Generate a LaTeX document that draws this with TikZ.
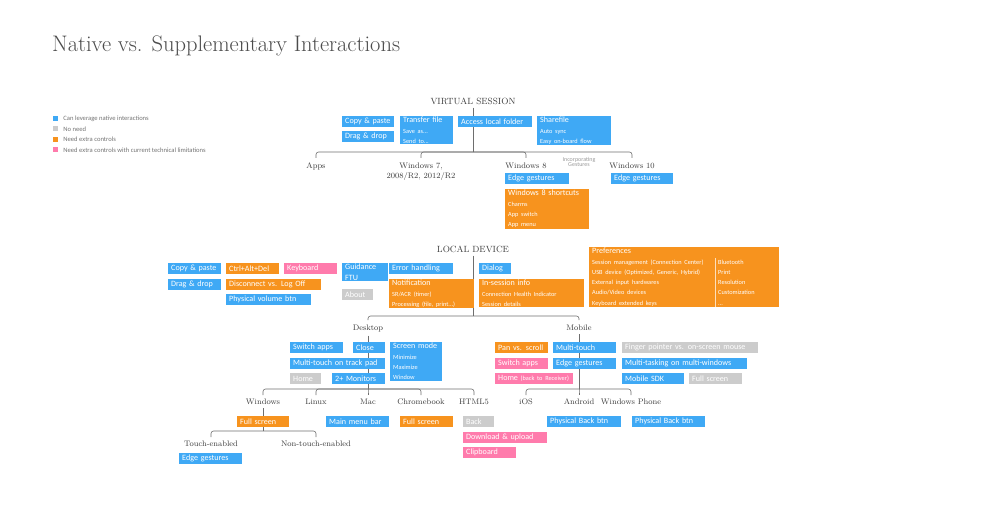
\documentclass[tikz,border=0pt]{standalone}
\usepackage{fontspec}
\usetikzlibrary{positioning}
\newfontfamily\boxfont{Carlito}
\newcommand\subtxt{\fontsize{6.3}{10.3}\selectfont}

\definecolor{cblue}{RGB}{63,169,245}
\definecolor{corange}{RGB}{247,147,30}
\definecolor{cpink}{RGB}{255,123,172}
\definecolor{cgray}{RGB}{204,204,204}
\definecolor{linegray}{RGB}{110,110,110}
\definecolor{labelgray}{RGB}{60,60,60}

\tikzset{
	tag/.style={anchor=north west, fill=#1, text=white, inner xsep=3pt, inner ysep=1pt,
		minimum height=10.5pt, align=left, font=\boxfont\fontsize{8.1}{10.3}\selectfont},
	wd/.style={text width=#1pt-6pt},
	lbl/.style={anchor=north, inner sep=0pt, text=labelgray, align=center,
		font=\fontsize{8}{9.5}\selectfont},
	head/.style={inner sep=0pt, text=labelgray, font=\fontsize{9}{10}\selectfont},
	branch/.style={draw=linegray, line width=0.6pt, rounded corners=2.5pt},
	legsq/.style={fill=#1, minimum size=5pt, inner sep=0pt},
	legtxt/.style={inner sep=0pt, text=black!55, font=\boxfont\fontsize{6.6}{7}\selectfont}
}

\begin{document}
\begin{tikzpicture}[x=1pt,y=-1pt]
	\useasboundingbox (0,0) rectangle (1000,526);

	\node[anchor=base west, inner sep=0pt, text=black!70, font=\fontsize{22.5}{26}\selectfont]
		(title) at (52,52) {Native vs. Supplementary Interactions};

	% legend
	\foreach \c/\t/\y [count=\i] in {cblue/Can leverage native interactions/118.5,
		cgray/No need/129, corange/Need extra controls/139.5,
		cpink/Need extra controls with current technical limitations/150}{
		\node[legsq=\c] (leg\i) at (55.5,\y) {};
		\node[legtxt, right=5pt of leg\i] (legt\i) {\t};
	}

	% virtual session
	\node[head] (virtual) at (473,101) {VIRTUAL SESSION};
	\node[lbl] (apps) at (316,163) {Apps};
	\node[lbl] (win7) at (421,163) {Windows 7,\\2008/R2, 2012/R2};
	\node[lbl] (win8) at (526,163) {Windows 8};
	\node[lbl] (win10) at (632,163) {Windows 10};
	\node[inner sep=0pt, text=black!40, align=center, font=\boxfont\fontsize{6}{5.8}\selectfont]
		(gestures) at (579,162) {Incorporating\\Gestures};
	\coordinate (vbar) at (473,152);
	\draw[branch, shorten <=3pt] (virtual) -- (vbar);
	\foreach \n in {apps,win7,win8,win10}
		\draw[branch, shorten >=5pt] (vbar) -| (\n);

	% local device
	\node[head] (local) at (473,249) {LOCAL DEVICE};
	\node[lbl] (desktop) at (368,325) {Desktop};
	\node[lbl] (mobile) at (579,325) {Mobile};
	\coordinate (lbar) at (473,316);
	\draw[branch, shorten <=3pt] (local) -- (lbar);
	\foreach \n in {desktop,mobile}
		\draw[branch, shorten >=5pt] (lbar) -| (\n);

	\node[lbl] (windows) at (263,399) {Windows};
	\node[lbl] (linux) at (316,399) {Linux};
	\node[lbl] (mac) at (368,399) {Mac};
	\node[lbl] (chromebook) at (421,399) {Chromebook};
	\node[lbl] (html) at (474,399) {HTML5};
	\coordinate (dbar) at (368,389);
	\draw[branch, shorten <=3pt] (desktop) -- (dbar);
	\foreach \n in {windows,linux,mac,chromebook,html}
		\draw[branch, shorten >=4pt] (dbar) -| (\n);

	\node[lbl] (ios) at (526,399) {iOS};
	\node[lbl] (android) at (579,399) {Android};
	\node[lbl] (wphone) at (631,399) {Windows Phone};
	\coordinate (mbar) at (579,389);
	\draw[branch, shorten <=3pt] (mobile) -- (mbar);
	\foreach \n in {ios,android,wphone}
		\draw[branch, shorten >=4pt] (mbar) -| (\n);

	\node[lbl] (touch) at (211,441) {Touch-enabled};
	\node[lbl] (nontouch) at (316,441) {Non-touch-enabled};
	\coordinate (wbar) at (263,431);
	\draw[branch, shorten <=3pt] (windows) -- (wbar);
	\foreach \n in {touch,nontouch}
		\draw[branch, shorten >=4pt] (wbar) -| (\n);

	% boxes, virtual session
	\node[tag=cblue, wd=52] (vcopy) at (342,116) {Copy \& paste};
	\node[tag=cblue, wd=52] (vdrag) at (342,131) {Drag \& drop};
	\node[tag=cblue, wd=53] (vtransfer) at (400,116) {Transfer file\\{\subtxt Save as...}\\{\subtxt Send to...}};
	\node[tag=cblue, wd=74] (vaccess) at (458,116) {Access local folder};
	\node[tag=cblue, wd=74] (vshare) at (537,116) {Sharefile\\{\subtxt Auto sync}\\{\subtxt Easy on-board flow}};
	\node[tag=cblue, wd=64] (w8edge) at (505,173) {Edge gestures};
	\node[tag=cblue, wd=62] (w10edge) at (611,173) {Edge gestures};
	\node[tag=corange, wd=84] (w8short) at (505,189) {Windows 8 shortcuts\\{\subtxt Charms}\\{\subtxt App switch}\\{\subtxt App menu}};

	% boxes, local device
	\node[tag=cblue, wd=53] (lcopy) at (168,263) {Copy \& paste};
	\node[tag=cblue, wd=53] (ldrag) at (168,279) {Drag \& drop};
	\node[tag=corange, wd=53] (lctrl) at (226,263) {Ctrl+Alt+Del};
	\node[tag=cpink, wd=53] (lkey) at (284,263) {Keyboard};
	\node[tag=corange, wd=95] (ldisc) at (226,279) {Disconnect vs. Log Off};
	\node[tag=cblue, wd=85] (lvol) at (226,294) {Physical volume btn};
	\node[tag=cblue, wd=46] (lguide) at (342,263) {Guidance\\FTU};
	\node[tag=cgray, wd=31] (labout) at (342,289) {About};
	\node[tag=cblue, wd=64] (lerror) at (389,263) {Error handling};
	\node[tag=corange, wd=85] (lnotif) at (389,279) {Notification\\{\subtxt SR/ACR (timer)}\\{\subtxt Processing (file, print...)}};
	\node[tag=cblue, wd=32] (ldialog) at (479,263) {Dialog};
	\node[tag=corange, wd=105] (linfo) at (479,279) {In-session info\\{\subtxt Connection Health Indicator}\\{\subtxt Session details}};
	\node[tag=corange, wd=190] (lpref) at (589,247) {Preferences\\
		{\subtxt\makebox[126pt][l]{Session management (Connection Center)}Bluetooth}\\
		{\subtxt\makebox[126pt][l]{USB device (Optimized, Generic, Hybrid)}Print}\\
		{\subtxt\makebox[126pt][l]{External input hardwares}Resolution}\\
		{\subtxt\makebox[126pt][l]{Audio/Video devices}Customization}\\
		{\subtxt\makebox[126pt][l]{Keyboard extended keys}...}};
	\draw[white!70!corange, line width=0.5pt] ([xshift=126pt,yshift=-11pt]lpref.north west) -- ([xshift=126pt]lpref.south west);

	% boxes, desktop
	\node[tag=cblue, wd=53] (dswitch) at (290,342) {Switch apps};
	\node[tag=cblue, wd=32] (dclose) at (353,342) {Close};
	\node[tag=cblue, wd=52] (dscreen) at (390,342) {Screen mode\\{\subtxt Minimize}\\{\subtxt Maximize}\\{\subtxt Window}};
	\node[tag=cblue, wd=95] (dtrack) at (290,358) {Multi-touch on track pad};
	\node[tag=cgray, wd=31] (dhome) at (290,373) {Home};
	\node[tag=cblue, wd=53] (dmon) at (332,373) {2+ Monitors};

	% boxes, mobile
	\node[tag=corange, wd=53] (mpan) at (495,342) {Pan vs. scroll};
	\node[tag=cblue, wd=63] (mtouch) at (553,342) {Multi-touch};
	\node[tag=cgray, wd=136] (mfinger) at (622,342) {Finger pointer vs. on-screen mouse};
	\node[tag=cpink, wd=53] (mswitch) at (495,358) {Switch apps};
	\node[tag=cblue, wd=63] (medge) at (553,358) {Edge gestures};
	\node[tag=cblue, wd=125] (mtask) at (622,358) {Multi-tasking on multi-windows};
	\node[tag=cpink, wd=78] (mhome) at (495,373) {Home {\subtxt (back to Receiver)}};
	\node[tag=cblue, wd=62] (msdk) at (622,373) {Mobile SDK};
	\node[tag=cgray, wd=53] (mfull) at (689,373) {Full screen};

	% boxes, platforms
	\node[tag=corange, wd=52] (wfull) at (237,416) {Full screen};
	\node[tag=cblue, wd=63] (macbar) at (326,416) {Main menu bar};
	\node[tag=corange, wd=53] (cfull) at (400,416) {Full screen};
	\node[tag=cgray, wd=31] (hback) at (463,416) {Back};
	\node[tag=cpink, wd=84] (hdown) at (463,432) {Download \& upload};
	\node[tag=cpink, wd=53] (hclip) at (463,447) {Clipboard};
	\node[tag=cblue, wd=74] (aback) at (547,416) {Physical Back btn};
	\node[tag=cblue, wd=73] (pback) at (632,416) {Physical Back btn};
	\node[tag=cblue, wd=63] (tedge) at (179,453) {Edge gestures};

\end{tikzpicture}
\end{document}
